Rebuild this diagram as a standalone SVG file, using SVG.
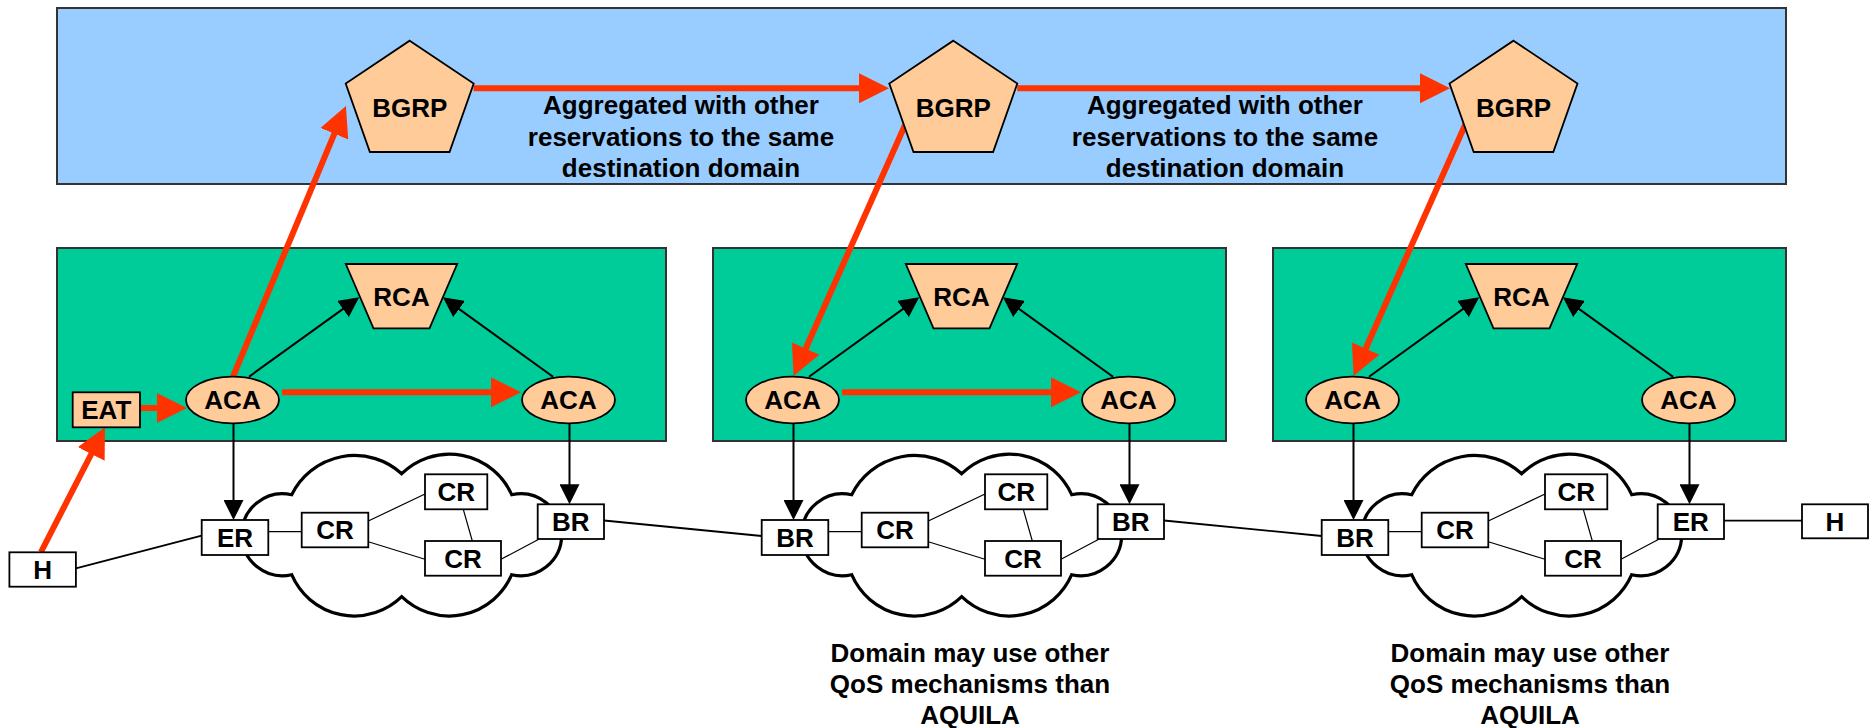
<svg xmlns="http://www.w3.org/2000/svg" xmlns:xlink="http://www.w3.org/1999/xlink" width="1876" height="728" viewBox="0 0 1876 728">
<style>
text{font-family:"Liberation Sans",Arial,sans-serif;font-weight:bold;fill:#000;text-anchor:middle}
.lbl{font-size:26px}
.node{font-size:26px}
.region{stroke:#333;stroke-width:2}
.blue{fill:#99CCFF}
.green{fill:#00CC99}
.peach{fill:#FFCC99;stroke:#000;stroke-width:1.8}
.router{fill:#fff;stroke:#000;stroke-width:1.8}
.red{stroke:#FF3300;stroke-width:6;fill:none;marker-end:url(#redHead)}
.blk{stroke:#000;stroke-width:2;fill:none;marker-end:url(#blackHead)}
.thin{stroke:#000;stroke-width:1.2;fill:none}
.link{stroke:#000;stroke-width:1.8;fill:none}
.cloud{fill:#fff;stroke:#000;stroke-width:3.2}
</style>
<defs>
<marker id="redHead" markerUnits="userSpaceOnUse" markerWidth="30" markerHeight="30" refX="18" refY="15" orient="auto" viewBox="0 0 30 30"><path d="M0,0 L30,15 L0,30 z" fill="#FF3300"/></marker>
<marker id="blackHead" markerUnits="userSpaceOnUse" markerWidth="20" markerHeight="20" refX="16" refY="10" orient="auto" viewBox="0 0 20 20"><path d="M0,0 L20,10 L0,20 z" fill="#000"/></marker>
<path id="cloudShape" class="cloud" d="M-110,-42 A70,70 0 0 1 0,-63 A68,68 0 0 1 110,-42 A41,41 0 1 1 110,38 A68,68 0 0 1 0,60 A68,68 0 0 1 -110,38 A41,41 0 1 1 -110,-42 Z"/>
</defs>

<g id="bgrp-region"><rect class="region blue" x="57" y="8" width="1729" height="176"/></g>
<g id="domain1"><rect class="region green" x="57" y="248" width="609" height="193"/></g>
<g id="domain2"><rect class="region green" x="713" y="248" width="513" height="193"/></g>
<g id="domain3"><rect class="region green" x="1273" y="248" width="513" height="193"/></g>

<g id="cloud1"><use xlink:href="#cloudShape" transform="translate(401.7,536.7)"/></g>
<g id="cloud2"><use xlink:href="#cloudShape" transform="translate(961.7,536.7)"/></g>
<g id="cloud3"><use xlink:href="#cloudShape" transform="translate(1521.7,536.7)"/></g>

<g id="labels">
<text class="lbl" x="681" y="114.3">Aggregated with other</text>
<text class="lbl" x="681" y="145.7">reservations to the same</text>
<text class="lbl" x="681" y="177">destination domain</text>
<text class="lbl" x="1225" y="114.3">Aggregated with other</text>
<text class="lbl" x="1225" y="145.7">reservations to the same</text>
<text class="lbl" x="1225" y="177">destination domain</text>
<text class="lbl" x="970" y="661.7">Domain may use other</text>
<text class="lbl" x="970" y="692.7">QoS mechanisms than</text>
<text class="lbl" x="970" y="723.5">AQUILA</text>
<text class="lbl" x="1530" y="661.7">Domain may use other</text>
<text class="lbl" x="1530" y="692.7">QoS mechanisms than</text>
<text class="lbl" x="1530" y="723.5">AQUILA</text>
</g>

<g id="connectors">
<!-- network links -->
<path class="link" d="M75.9,568.3 L201.7,535.7"/>
<path class="link" d="M604,520.5 L761.7,536"/>
<path class="link" d="M1164,520.5 L1321.7,536"/>
<path class="link" d="M1724,520.7 L1802,520.7"/>
<path class="thin" d="M268.3,531.7 L301.7,531.7 M368.3,521 L425,494 M368.3,541.7 L425,559.3 M463.3,509.3 L472.3,541 M501,559.3 L539.3,539"/>
<path class="thin" d="M828.3,531.7 L861.7,531.7 M928.3,521 L985,494 M928.3,541.7 L985,559.3 M1023.3,509.3 L1032.3,541 M1061,559.3 L1099.3,539"/>
<path class="thin" d="M1388.3,531.7 L1421.7,531.7 M1488.3,521 L1545,494 M1488.3,541.7 L1545,559.3 M1583.3,509.3 L1592.3,541 M1621,559.3 L1659.3,539"/>
<!-- ACA to RCA -->
<path class="blk" d="M249,376.7 L355.95,299.64"/>
<path class="blk" d="M553,376.7 L446.1,299.64"/>
<path class="blk" d="M809,376.7 L915.95,299.64"/>
<path class="blk" d="M1113,376.7 L1006.1,299.64"/>
<path class="blk" d="M1369,376.7 L1475.95,299.64"/>
<path class="blk" d="M1673,376.7 L1566.1,299.64"/>
<!-- ACA to routers -->
<path class="blk" d="M233.5,423.3 L233.5,516"/>
<path class="blk" d="M569.5,423.3 L569.5,500.3"/>
<path class="blk" d="M793.5,423.3 L793.5,516"/>
<path class="blk" d="M1129.5,423.3 L1129.5,500.3"/>
<path class="blk" d="M1353.5,423.3 L1353.5,516"/>
<path class="blk" d="M1689.5,423.3 L1689.5,500.3"/>
<!-- signalling path (red) -->
<path class="red" d="M41,552 L99.5,438"/>
<path class="red" d="M140,408 L175,408"/>
<path class="red" d="M282,392.3 L509,392.3"/>
<path class="red" d="M842,392.3 L1069,392.3"/>
<path class="red" d="M233,376.7 L341.3,117.1"/>
<path class="red" d="M473.6,88.3 L877,88.3"/>
<path class="red" d="M1017.3,88.3 L1438,88.3"/>
<path class="red" d="M906.5,121.7 L798.4,365"/>
<path class="red" d="M1466.5,121.7 L1358.4,365"/>
</g>

<g id="bgrp1"><polygon class="peach" points="409.7,40.7 473.7,83.5 449.5,152 369.9,152 345.7,83.5"/><text class="node" x="409.7" y="116.7">BGRP</text></g>
<g id="bgrp2"><polygon class="peach" points="953.3,40.7 1017.3,83.5 993.1,152 913.5,152 889.3,83.5"/><text class="node" x="953.3" y="116.7">BGRP</text></g>
<g id="bgrp3"><polygon class="peach" points="1513.5,40.7 1577.5,83.5 1553.3,152 1473.7,152 1449.5,83.5"/><text class="node" x="1513.5" y="116.7">BGRP</text></g>

<g id="rca1"><polygon class="peach" points="345.8,264 457.2,264 429.5,328.3 373.5,328.3"/><text class="node" x="401.5" y="305.7">RCA</text></g>
<g id="rca2"><polygon class="peach" points="905.8,264 1017.2,264 989.5,328.3 933.5,328.3"/><text class="node" x="961.5" y="305.7">RCA</text></g>
<g id="rca3"><polygon class="peach" points="1465.8,264 1577.2,264 1549.5,328.3 1493.5,328.3"/><text class="node" x="1521.5" y="305.7">RCA</text></g>

<g id="eat"><rect class="peach" x="72.7" y="392.3" width="67.3" height="35"/><text class="node" x="106.3" y="419">EAT</text></g>

<g id="aca1a"><ellipse class="peach" cx="232.5" cy="400" rx="46.5" ry="23.3"/><text class="node" x="232.5" y="409.3">ACA</text></g>
<g id="aca1b"><ellipse class="peach" cx="568.5" cy="400" rx="46.5" ry="23.3"/><text class="node" x="568.5" y="409.3">ACA</text></g>
<g id="aca2a"><ellipse class="peach" cx="792.5" cy="400" rx="46.5" ry="23.3"/><text class="node" x="792.5" y="409.3">ACA</text></g>
<g id="aca2b"><ellipse class="peach" cx="1128.5" cy="400" rx="46.5" ry="23.3"/><text class="node" x="1128.5" y="409.3">ACA</text></g>
<g id="aca3a"><ellipse class="peach" cx="1352.5" cy="400" rx="46.5" ry="23.3"/><text class="node" x="1352.5" y="409.3">ACA</text></g>
<g id="aca3b"><ellipse class="peach" cx="1688.5" cy="400" rx="46.5" ry="23.3"/><text class="node" x="1688.5" y="409.3">ACA</text></g>

<g id="h-left"><rect class="router" x="9.4" y="552.3" width="66.5" height="34.4"/><text class="node" x="42.6" y="579">H</text></g>
<g id="h-right"><rect class="router" x="1802" y="504.3" width="66" height="34"/><text class="node" x="1835" y="530.8">H</text></g>

<g id="er1"><rect class="router" x="201.7" y="520" width="66.6" height="35"/><text class="node" x="235" y="546.5">ER</text></g>
<g id="cr1a"><rect class="router" x="301.7" y="512.7" width="66.6" height="34.6"/><text class="node" x="335" y="539.3">CR</text></g>
<g id="cr1b"><rect class="router" x="425" y="474.3" width="62.3" height="35"/><text class="node" x="456.2" y="501">CR</text></g>
<g id="cr1c"><rect class="router" x="425" y="541" width="76" height="34.7"/><text class="node" x="463" y="567.6">CR</text></g>
<g id="br1"><rect class="router" x="537.7" y="504.3" width="66.3" height="34.7"/><text class="node" x="570.8" y="530.9">BR</text></g>

<g id="br2a"><rect class="router" x="761.7" y="520" width="66.6" height="35"/><text class="node" x="795" y="546.5">BR</text></g>
<g id="cr2a"><rect class="router" x="861.7" y="512.7" width="66.6" height="34.6"/><text class="node" x="895" y="539.3">CR</text></g>
<g id="cr2b"><rect class="router" x="985" y="474.3" width="62.3" height="35"/><text class="node" x="1016.2" y="501">CR</text></g>
<g id="cr2c"><rect class="router" x="985" y="541" width="76" height="34.7"/><text class="node" x="1023" y="567.6">CR</text></g>
<g id="br2b"><rect class="router" x="1097.7" y="504.3" width="66.3" height="34.7"/><text class="node" x="1130.8" y="530.9">BR</text></g>

<g id="br3"><rect class="router" x="1321.7" y="520" width="66.6" height="35"/><text class="node" x="1355" y="546.5">BR</text></g>
<g id="cr3a"><rect class="router" x="1421.7" y="512.7" width="66.6" height="34.6"/><text class="node" x="1455" y="539.3">CR</text></g>
<g id="cr3b"><rect class="router" x="1545" y="474.3" width="62.3" height="35"/><text class="node" x="1576.2" y="501">CR</text></g>
<g id="cr3c"><rect class="router" x="1545" y="541" width="76" height="34.7"/><text class="node" x="1583" y="567.6">CR</text></g>
<g id="er3"><rect class="router" x="1657.7" y="504.3" width="66.3" height="34.7"/><text class="node" x="1690.8" y="530.9">ER</text></g>
</svg>
